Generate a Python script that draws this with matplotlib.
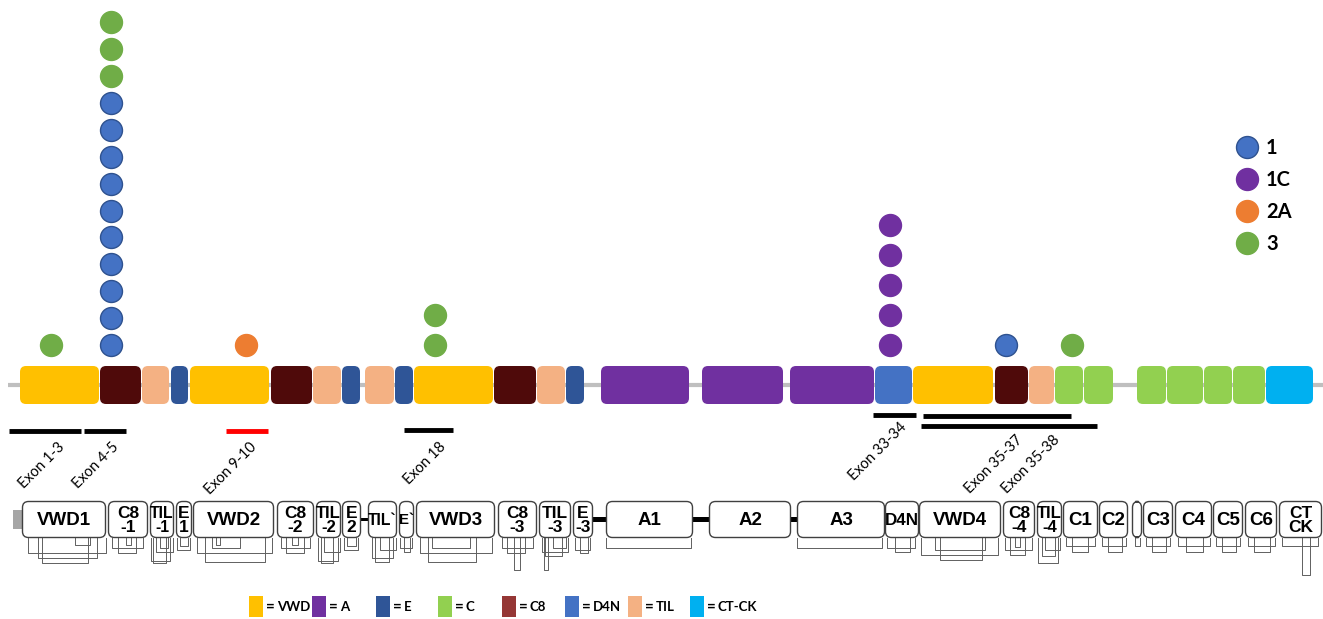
import matplotlib.pyplot as plt
from matplotlib.patches import FancyBboxPatch, Rectangle

# colours of the domain types
colors = {
    'VWD': '#FFC000', 'A': '#7030A0', 'E': '#2F5597', 'C': '#92D050',
    'C8': '#4F0A0A', 'D4N': '#4472C4', 'TIL': '#F4B183', 'CT-CK': '#00B0F0',
}
legend_c8 = '#953735'

# upper domain bar: (type, x start, x end)
domains = [
    ('VWD', 20, 99), ('C8', 100, 141), ('TIL', 142, 169), ('E', 171, 188),
    ('VWD', 190, 269), ('C8', 271, 312), ('TIL', 313, 341), ('E', 342, 360),
    ('TIL', 365, 394), ('E', 395, 413), ('VWD', 414, 493), ('C8', 494, 536),
    ('TIL', 537, 565), ('E', 566, 584), ('A', 601, 689), ('A', 702, 783),
    ('A', 790, 874), ('D4N', 875, 912), ('VWD', 913, 993), ('C8', 995, 1028),
    ('TIL', 1029, 1054), ('C', 1055, 1083), ('C', 1084, 1113),
    ('C', 1137, 1166), ('C', 1167, 1203), ('C', 1204, 1232), ('C', 1233, 1265),
    ('CT-CK', 1266, 1313),
]

# variant type classes
class_names = ['1', '1C', '2A', '3']
class_colors = {'1': '#4472C4', '1C': '#7030A0', '2A': '#ED7D31', '3': '#70AD47'}
class_edges = {'1': '#2F528F', '1C': '#7030A0', '2A': '#ED7D31', '3': '#70AD47'}

# lollipop columns: x position, variants from bottom to top, step
columns = [
    (51, ['3'], 30),
    (111, ['1'] * 10 + ['3'] * 3, 26.9),
    (246, ['2A'], 30),
    (435, ['3', '3'], 30),
    (890, ['1C'] * 5, 30),
    (1006, ['1'], 30),
    (1072, ['3'], 30),
]

# exon bars: label, x start, x end, y, colour, label anchor
exons = [
    ('Exon 1-3', 9, 81, 431, 'black', (57, 440)),
    ('Exon 4-5', 84, 126, 431, 'black', (112, 440)),
    ('Exon 9-10', 226, 268, 431, 'red', (249, 440)),
    ('Exon 18', 404, 453, 430, 'black', (439, 440)),
    ('Exon 33-34', 873, 916, 415, 'black', (900, 420)),
    ('Exon 35-37', 923, 1071, 416, 'black', (1016, 433)),
    ('Exon 35-38', 921, 1097, 426, 'black', (1053, 433)),
]

# lower schematic: label, x start, x end
boxes = [
    ('VWD1', 22, 106), ('C8\n-1', 108, 148), ('TIL\n-1', 150, 174),
    ('E\n1', 176, 192), ('VWD2', 193, 274), ('C8\n-2', 277, 314),
    ('TIL\n-2', 316, 341), ('E\n2', 342, 361), ('TIL`', 368, 397),
    ('E`', 399, 414), ('VWD3', 416, 495), ('C8\n-3', 498, 537),
    ('TIL\n-3', 539, 571), ('E\n-3', 573, 593), ('A1', 606, 693),
    ('A2', 709, 791), ('A3', 797, 885), ('D4N', 885, 919),
    ('VWD4', 919, 1001), ('C8\n-4', 1003, 1035), ('TIL\n-4', 1037, 1062),
    ('C1', 1063, 1098), ('C2', 1099, 1128), ('', 1132, 1142),
    ('C3', 1143, 1173), ('C4', 1175, 1212), ('C5', 1213, 1243),
    ('C6', 1245, 1277), ('CT\nCK', 1279, 1322),
]
links = [(361, 368, 3), (593, 606, 5), (693, 709, 5), (791, 797, 5)]

# disulfide brackets below the boxes: x start, x end, depth
brackets = [
    (28, 106, 553), (38, 97, 558), (42, 88, 563), (75, 90, 545),
    (112, 143, 548), (118, 136, 553), (126, 131, 545),
    (151, 170, 561), (153, 166, 563), (156, 173, 552), (160, 168, 548),
    (177, 190, 550), (180, 188, 546),
    (197, 272, 553), (205, 265, 562), (212, 240, 548), (216, 220, 545),
    (281, 310, 548), (286, 304, 553), (292, 298, 545),
    (318, 338, 561), (321, 333, 563), (324, 340, 552),
    (344, 358, 550), (347, 356, 546),
    (372, 393, 558), (375, 389, 562), (380, 396, 550),
    (400, 412, 548), (404, 410, 552),
    (420, 492, 553), (428, 476, 562), (432, 470, 548),
    (502, 533, 548), (507, 525, 553), (514, 520, 570),
    (542, 568, 552), (545, 562, 556), (544, 548, 570), (553, 566, 548),
    (575, 590, 550), (580, 588, 553),
    (606, 691, 548), (797, 882, 548),
    (887, 915, 548), (895, 910, 552),
    (921, 998, 555), (935, 985, 550), (940, 982, 560),
    (1005, 1032, 550), (1010, 1025, 555), (1015, 1020, 547),
    (1038, 1058, 563), (1042, 1055, 556), (1045, 1060, 550),
    (1066, 1095, 546), (1072, 1088, 552), (1102, 1126, 546), (1108, 1122, 552),
    (1135, 1140, 546), (1146, 1170, 546), (1152, 1166, 552),
    (1178, 1210, 546), (1186, 1203, 552), (1216, 1240, 546), (1222, 1236, 552),
    (1248, 1275, 546), (1254, 1270, 552), (1282, 1318, 546),
    (1302, 1310, 575),
]

legend_items = ['VWD', 'A', 'E', 'C', 'C8', 'D4N', 'TIL', 'CT-CK']
legend_x = [249, 312, 376, 438, 502, 565, 628, 690]

fig = plt.figure(figsize=(13.23, 6.19), dpi=100)
ax = fig.add_axes([0, 0, 1, 1])
ax.set_xlim(0, 1323)
ax.set_ylim(619, 0)
ax.axis('off')

# backbone
ax.plot([8, 1323], [385, 385], color='#BFBFBF', lw=3, zorder=1, solid_capstyle='butt')

for name, x0, x1 in domains:
    ax.add_patch(FancyBboxPatch((x0 + 2, 368), x1 - x0 - 4, 34,
                                boxstyle='round,pad=2,rounding_size=6',
                                fc=colors[name], ec='none', zorder=2))

# lollipops
for x, variants, step in columns:
    for i, v in enumerate(variants):
        ax.scatter(x, 345 - i * step, s=250, color=class_colors[v],
                   edgecolors=class_edges[v], linewidths=1, zorder=3)

# legend of variant types
for i, name in enumerate(class_names):
    y = 147 + i * 32
    ax.scatter(1247, y, s=250, color=class_colors[name],
               edgecolors=class_edges[name], linewidths=1, zorder=3)
    ax.text(1266, y + 1, name, fontsize=14.5, fontweight='bold', family='Lato',
            ha='left', va='center')

# exon bars and labels
for label, x0, x1, y, c, (tx, ty) in exons:
    ax.plot([x0, x1], [y, y], color=c, lw=3.5, solid_capstyle='butt')
    ax.text(tx, ty, label, fontsize=10.5, family='Lato', rotation=45,
            rotation_mode='anchor', ha='right', va='top')

# lower schematic
ax.add_patch(Rectangle((13, 510), 9, 19, fc='#A6A6A6', ec='none'))
for x0, x1, h in links:
    ax.add_patch(Rectangle((x0, 519.5 - h / 2), x1 - x0, h, fc='black', ec='none'))
for x0, x1, d in brackets:
    ax.plot([x0, x0, x1, x1], [538, d, d, 538], color='#606060', lw=0.7, zorder=1)

renderer = fig.canvas.get_renderer()
for label, x0, x1 in boxes:
    ax.add_patch(FancyBboxPatch((x0 + 1, 502), x1 - x0 - 2, 35,
                                boxstyle='round,pad=0.5,rounding_size=6',
                                fc='white', ec='#404040', lw=1, zorder=2))
    if label:
        fs = 12.5 if '\n' in label else 13.5
        t = ax.text((x0 + x1) / 2, 520.5, label, fontsize=fs,
                    fontweight='bold', family='Liberation Sans', ha='center',
                    va='center', linespacing=0.85, zorder=3)
        # shrink the text of narrow boxes so it stays inside
        w = t.get_window_extent(renderer).width
        if w > x1 - x0:
            t.set_fontsize(fs * (x1 - x0) / w)

# bottom legend
for name, x in zip(legend_items, legend_x):
    fc = legend_c8 if name == 'C8' else colors[name]
    ax.add_patch(Rectangle((x, 596), 14, 21, fc=fc, ec='none'))
    ax.text(x + 17, 607, '=', fontsize=11, fontweight='bold', family='Lato',
            ha='left', va='center')
    ax.text(x + 28, 607, name, fontsize=9.5, fontweight='bold', family='Lato',
            ha='left', va='center')

fig.savefig('out.png', dpi=100)
